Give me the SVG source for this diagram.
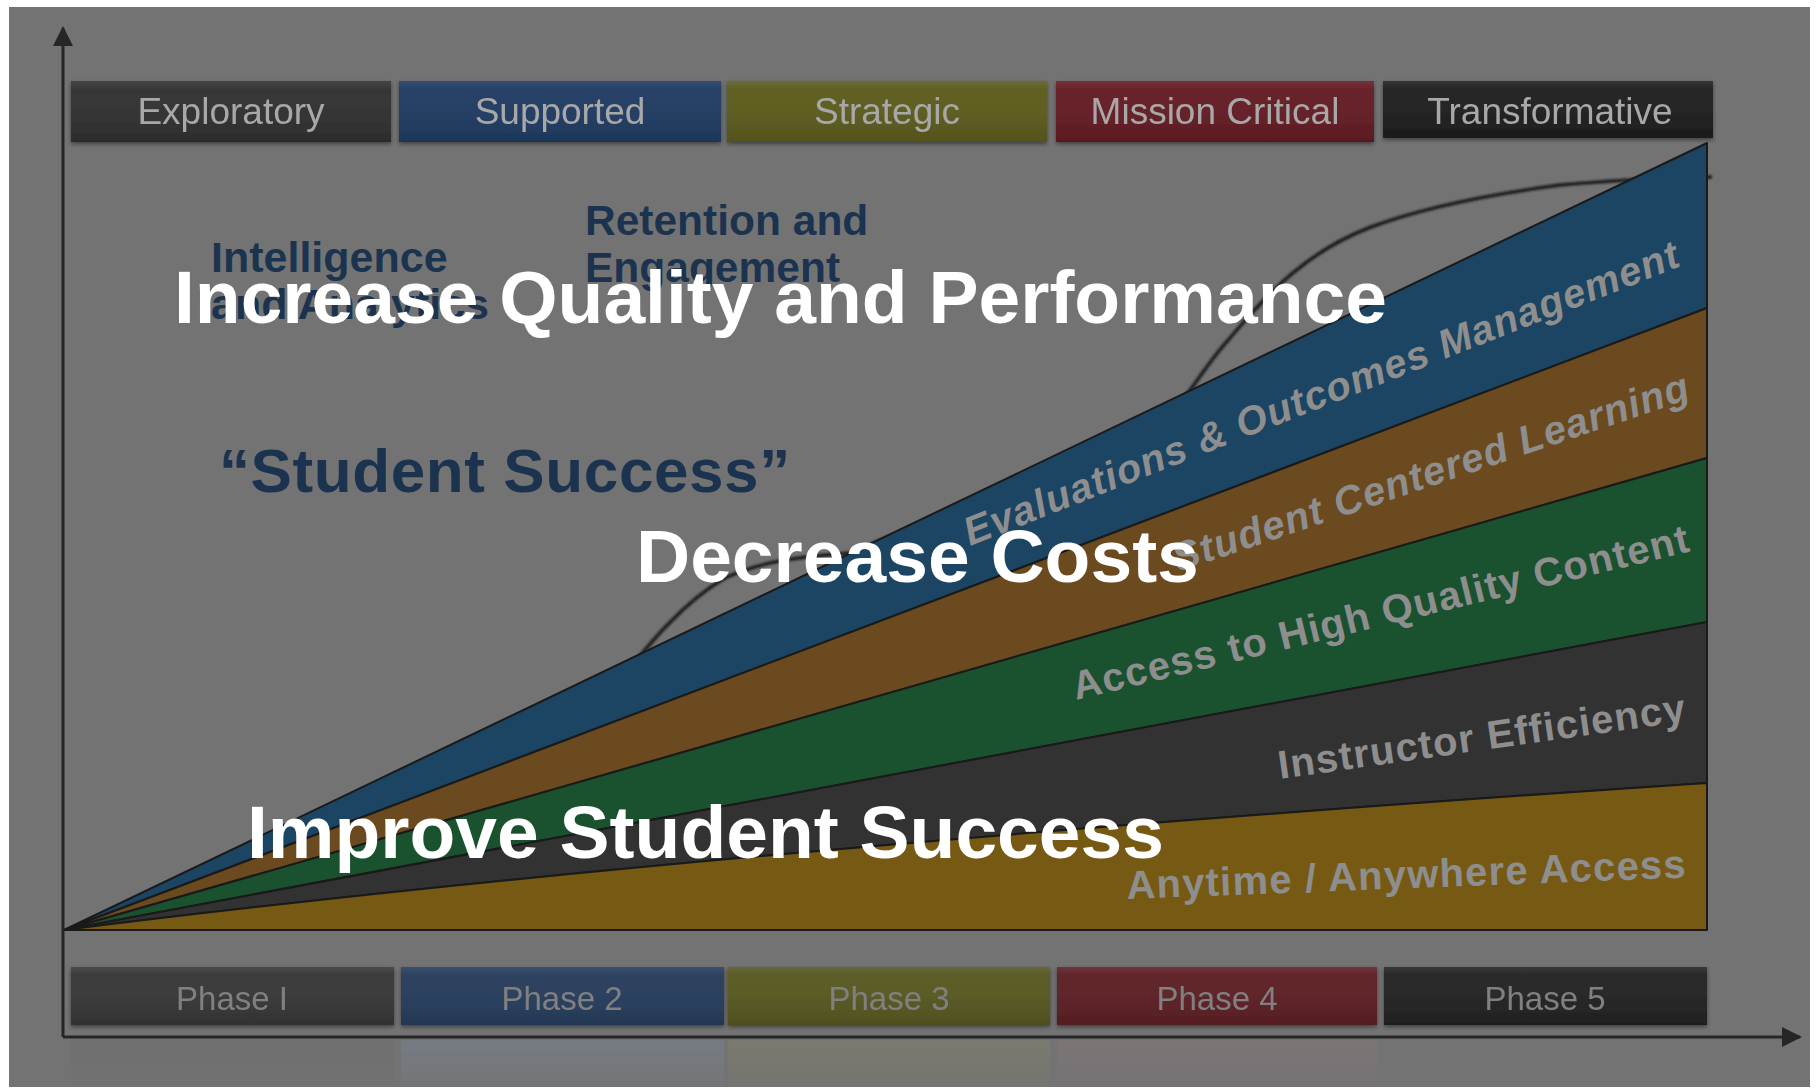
<svg xmlns="http://www.w3.org/2000/svg" width="1816" height="1089" viewBox="0 0 1816 1089">
<defs>
  <style>
    .box-text { font-family: "Liberation Sans", Arial, sans-serif; font-size: 37px; fill: #a8a8a8; text-anchor: middle; }
    .phase-text { font-family: "Liberation Sans", Arial, sans-serif; font-size: 33px; fill: #808080; text-anchor: middle; }
    .navy { font-family: "Liberation Sans", Arial, sans-serif; font-weight: bold; fill: #1c3350; }
    .big { font-family: "Liberation Sans", Arial, sans-serif; font-weight: bold; font-size: 75px; fill: #ffffff; }
    .band-label { font-family: "Liberation Sans", Arial, sans-serif; font-weight: bold; font-size: 40px; fill: #8e8e8e; letter-spacing: 1.2px; }
    .band { stroke: #1a1a1a; stroke-width: 2; stroke-linejoin: round; }
    .axis { stroke: #262626; stroke-width: 3; fill: none; }
  </style>
  <linearGradient id="boxShine" x1="0" y1="0" x2="0" y2="1">
    <stop offset="0" stop-color="#ffffff" stop-opacity="0.10"/>
    <stop offset="0.15" stop-color="#ffffff" stop-opacity="0.03"/>
    <stop offset="1" stop-color="#000000" stop-opacity="0.10"/>
  </linearGradient>
  <linearGradient id="reflFade" x1="0" y1="0" x2="0" y2="1">
    <stop offset="0" stop-color="#ffffff" stop-opacity="0.9"/>
    <stop offset="1" stop-color="#ffffff" stop-opacity="0.2"/>
  </linearGradient>
  <mask id="reflMask">
    <rect x="0" y="1040" width="1816" height="49" fill="url(#reflFade)"/>
  </mask>
  <filter id="shadow" x="-5%" y="-20%" width="110%" height="150%">
    <feDropShadow dx="0" dy="2" stdDeviation="2" flood-color="#000000" flood-opacity="0.45"/>
  </filter>
  <filter id="soft" x="-5%" y="-5%" width="110%" height="110%">
    <feGaussianBlur stdDeviation="0.8"/>
  </filter>
  <marker id="arrow" viewBox="0 0 10 10" refX="9" refY="5" markerWidth="24" markerHeight="20" markerUnits="userSpaceOnUse" orient="auto">
    <path d="M0,0 L10,5 L0,10 Z" fill="#262626"/>
  </marker>
</defs>

<!-- background -->
<rect x="0" y="0" width="1816" height="1089" fill="#ffffff"/>
<rect x="9" y="7" width="1801" height="1080" fill="#737373"/>

<!-- reflections below the axis -->
<g id="reflections" opacity="0.35" mask="url(#reflMask)">
  <rect x="71" y="1040" width="323" height="45" fill="#686868"/>
  <rect x="401" y="1040" width="323" height="45" fill="#7d8ca6"/>
  <rect x="728" y="1040" width="322" height="45" fill="#8a8a66"/>
  <rect x="1057" y="1040" width="320" height="45" fill="#927a7e"/>
  <rect x="1384" y="1040" width="323" height="45" fill="#777777"/>
</g>

<!-- S-curve (behind wedges) -->
<g id="curve">
  <path d="M600,705 C630,670 670,610 725,578 C765,560 800,557 850,553 L1150,430 C1180,415 1200,370 1230,338 C1270,290 1310,250 1371,227 C1430,205 1500,193 1560,185 C1620,180 1680,177 1712,177" fill="none" stroke="#1e1e1e" stroke-width="3.5" filter="url(#soft)"/>
</g>

<!-- wedges -->
<g id="wedges">
  <path id="band-evaluations" class="band" d="M64,930 L1707,143 L1707,308 Z" fill="#1b4563"/>
  <path id="band-student" class="band" d="M64,930 L1707,308 L1707,458 Z" fill="#6a4a1e"/>
  <path id="band-access" class="band" d="M64,930 L1707,458 L1707,622 Z" fill="#1a5230"/>
  <path id="band-instructor" class="band" d="M64,930 L1707,622 L1707,783 Q700,850 64,930 Z" fill="#323232"/>
  <path id="band-anytime" class="band" d="M64,930 Q700,850 1707,783 L1707,930 Z" fill="#765a14"/>
</g>

<!-- band labels -->
<g id="band-labels">
  <text class="band-label" font-style="italic" transform="translate(970,546) rotate(-21.5)">Evaluations &amp; Outcomes Management</text>
  <text class="band-label" font-style="italic" transform="translate(1178,572) rotate(-18.7)">Student Centered Learning</text>
  <text class="band-label" transform="translate(1076,700) rotate(-13.6)">Access to High Quality Content</text>
  <text class="band-label" transform="translate(1280,779) rotate(-8.1)">Instructor Efficiency</text>
  <text class="band-label" transform="translate(1127,899) rotate(-2.2)">Anytime / Anywhere Access</text>
</g>

<!-- navy texts -->
<g id="navy-labels">
  <text class="navy" font-size="43" x="211" y="272">Intelligence</text>
  <text class="navy" font-size="43" x="211" y="319">and Analytics</text>
  <text class="navy" font-size="42.5" x="585" y="235">Retention and</text>
  <text class="navy" font-size="42.5" x="585" y="282">Engagement</text>
  <text class="navy" font-size="62" letter-spacing="0.6" x="219" y="492">“Student Success”</text>
</g>

<!-- top maturity boxes -->
<g id="maturity" filter="url(#shadow)">
  <g id="box-exploratory">
    <rect x="71" y="81" width="320" height="61" fill="#303030"/>
    <rect x="71" y="81" width="320" height="61" fill="url(#boxShine)"/>
    <text class="box-text" x="231" y="124">Exploratory</text>
  </g>
  <g id="box-supported">
    <rect x="399" y="81" width="322" height="61" fill="#1f3b62"/>
    <rect x="399" y="81" width="322" height="61" fill="url(#boxShine)"/>
    <text class="box-text" x="560" y="124">Supported</text>
  </g>
  <g id="box-strategic">
    <rect x="727" y="81" width="320" height="61" fill="#5b5b1d"/>
    <rect x="727" y="81" width="320" height="61" fill="url(#boxShine)"/>
    <text class="box-text" x="887" y="124">Strategic</text>
  </g>
  <g id="box-mission">
    <rect x="1056" y="81" width="318" height="61" fill="#641b23"/>
    <rect x="1056" y="81" width="318" height="61" fill="url(#boxShine)"/>
    <text class="box-text" x="1215" y="124">Mission Critical</text>
  </g>
  <g id="box-transformative">
    <rect x="1383" y="81" width="330" height="57" fill="#1e1e1e"/>
    <rect x="1383" y="81" width="330" height="57" fill="url(#boxShine)"/>
    <text class="box-text" x="1550" y="124">Transformative</text>
  </g>
</g>

<!-- phase boxes -->
<g id="phases" filter="url(#shadow)">
  <g id="phase-1">
    <rect x="71" y="967" width="323" height="58" fill="#363636"/>
    <rect x="71" y="967" width="323" height="58" fill="url(#boxShine)"/>
    <text class="phase-text" x="232" y="1010">Phase I</text>
  </g>
  <g id="phase-2">
    <rect x="401" y="967" width="323" height="58" fill="#263c5c"/>
    <rect x="401" y="967" width="323" height="58" fill="url(#boxShine)"/>
    <text class="phase-text" x="562" y="1010">Phase 2</text>
  </g>
  <g id="phase-3">
    <rect x="728" y="967" width="322" height="58" fill="#575721"/>
    <rect x="728" y="967" width="322" height="58" fill="url(#boxShine)"/>
    <text class="phase-text" x="889" y="1010">Phase 3</text>
  </g>
  <g id="phase-4">
    <rect x="1057" y="967" width="320" height="58" fill="#5c1e24"/>
    <rect x="1057" y="967" width="320" height="58" fill="url(#boxShine)"/>
    <text class="phase-text" x="1217" y="1010">Phase 4</text>
  </g>
  <g id="phase-5">
    <rect x="1384" y="967" width="323" height="58" fill="#222222"/>
    <rect x="1384" y="967" width="323" height="58" fill="url(#boxShine)"/>
    <text class="phase-text" x="1545" y="1010">Phase 5</text>
  </g>
</g>

<!-- axes -->
<g id="connectors">
  <line class="axis" x1="63" y1="1037" x2="63" y2="28" marker-end="url(#arrow)"/>
  <line class="axis" x1="63" y1="1037" x2="1800" y2="1037" stroke-width="4" marker-end="url(#arrow)"/>
</g>

<!-- white headline texts -->
<g id="headlines">
  <text class="big" x="174" y="323">Increase Quality and Performance</text>
  <text class="big" x="636" y="582">Decrease Costs</text>
  <text class="big" x="247" y="858">Improve Student Success</text>
</g>
</svg>
